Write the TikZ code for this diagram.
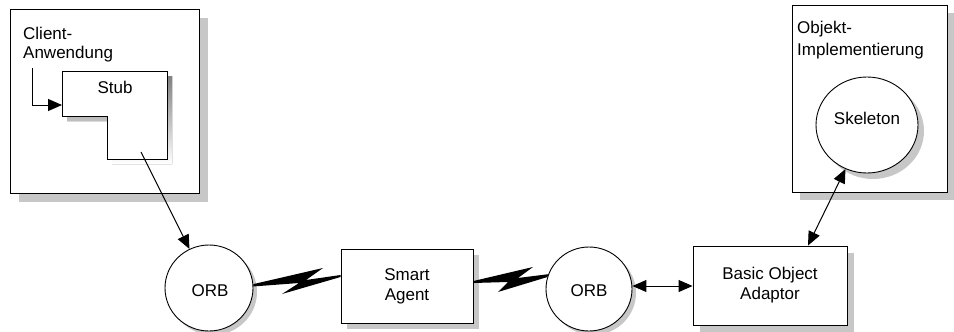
\documentclass[tikz,border=0pt]{standalone}
\usepackage{fontspec}
\setmainfont{Liberation Sans}
\usetikzlibrary{arrows.meta,shadows,shapes.geometric}
\definecolor{shade}{gray}{0.78}

\begin{document}
\begin{tikzpicture}[x=1pt,y=-1pt,
  every node/.style={font=\fontsize{17}{20}\selectfont, inner sep=0pt},
  box/.style={draw, fill=white, line width=0.9pt, rectangle, align=center},
  blob/.style={draw, fill=white, ellipse, line width=0.9pt, align=center},
  sh/.style={general shadow={fill=shade, shadow xshift=#1, shadow yshift=-#1}},
  conn/.style={line width=1pt, -{Triangle[length=14pt,width=12pt]}},
  conn2/.style={line width=1pt, {Triangle[length=14pt,width=12pt]}-{Triangle[length=14pt,width=12pt]}},
  label/.style={align=left, anchor=base west}
]
\useasboundingbox (0,0) rectangle (954,332);

% client application with its stub
\node[box, sh=9pt, minimum width=189pt, minimum height=184pt] (client) at (104.5,101) {};
\node[label, font=\fontsize{17}{19}\selectfont] (clientlbl) at (23,58) {Client-\\Anwendung};
\fill[shade, xshift=5pt, yshift=-5pt]
  (62,71) -- (167,71) -- (167,159) -- (107,159) -- (107,116) -- (62,116) -- cycle;
\draw[fill=white, line width=0.9pt]
  (62,71) -- (167,71) -- (167,159) -- (107,159) -- (107,116) -- (62,116) -- cycle;
\node (stub) at (115,87) {Stub};
\coordinate (cin) at (32,68);
\coordinate (stubin) at (62,105);
\coordinate (stubout) at (141,152);

% object implementation with its skeleton
\node[box, sh=8pt, minimum width=155pt, minimum height=187pt] (impl) at (869.5,98.5) {};
\node[label, font=\fontsize{17}{22}\selectfont] (impllbl) at (797,55) {Objekt-\\Implementierung};
\node[blob, sh=6pt, minimum width=102pt, minimum height=96pt] (skel) at (867,125) {};
\node (skeltext) at (867,118) {Skeleton};

% bottom row
\node[blob, sh=4pt, minimum width=88pt, minimum height=86pt] (orb1) at (209,288) {};
\node (orb1text) at (210,291) {ORB};
\node[box, sh=6pt, minimum width=132pt, minimum height=74pt] (smart) at (407,286) {Smart\\Agent};
\node[blob, sh=4pt, minimum width=86pt, minimum height=84pt] (orb2) at (589,289) {};
\node (orb2text) at (589,291) {ORB};
\node[box, sh=7pt, minimum width=154pt, minimum height=79pt] (boa) at (770,285.5) {Basic Object\\Adaptor};

% connectors
\draw[conn] (cin) |- (stubin);
\draw[conn] (stubout) -- (orb1);
\draw[conn2] ([yshift=3pt]orb2.east) -- ([yshift=3pt]orb2.east -| boa.west);
\draw[conn2] ([xshift=38pt]boa.north) -- (skel);

% lightning links
\fill (orb1.5) -- (323,268) -- (306,280) -- ([yshift=11pt]smart.west)
  -- ([yshift=9pt]smart.west) -- (282,294) -- (299,283) -- (orb1.2) -- cycle;
\fill ([yshift=5pt]smart.east) -- (533,267) -- (518,278) -- (orb2.160)
  -- (orb2.164) -- (498,292) -- (508,282) -- ([yshift=3pt]smart.east) -- cycle;
\end{tikzpicture}
\end{document}
